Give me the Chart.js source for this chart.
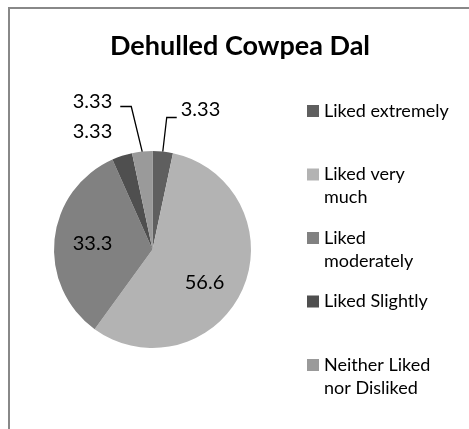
<!DOCTYPE html>
<html lang="en">
<head>
    <meta charset="UTF-8">
    <title>Dehulled Cowpea Dal</title>
    <script src="https://cdn.jsdelivr.net/npm/chart.js"></script>
    <style>
        body {
            margin: 0;
            background: #ffffff;
        }
        .frame {
            position: absolute;
            left: 0;
            top: 0;
            width: 469px;
            height: 429px;
        }
        .frame::before {
            content: '';
            position: absolute;
            left: 8px;
            top: 7px;
            right: 0;
            bottom: 0;
            border-top: 2px solid #888888;
            border-left: 2px solid #888888;
            pointer-events: none;
        }
    </style>
</head>
<body>
    <div class="frame">
        <canvas id="dalChart" width="469" height="429"></canvas>
    </div>
    <script>
        const chartTitle = 'Dehulled Cowpea Dal';
        const categories = ['Liked extremely', 'Liked very much', 'Liked moderately', 'Liked Slightly', 'Neither Liked nor Disliked'];
        const legendLines = [['Liked extremely'], ['Liked very', 'much'], ['Liked', 'moderately'], ['Liked Slightly'], ['Neither Liked', 'nor Disliked']];
        const percentages = [3.33, 56.6, 33.3, 3.33, 3.33];
        const sliceColors = ['#5f5f5f', '#b3b3b3', '#818181', '#4f4f4f', '#9a9a9a'];

        // where each value label sits, relative to the pie centre, and which side its leader line goes
        const labelOffsets = [[48, -140], [52, 33], [-60, -6], [-60, -118], [-60, -148]];
        const leaderSide = ['right', null, null, null, 'left'];

        const FONT = 'Lato, "Open Sans", sans-serif';

        const extrasPlugin = {
            id: 'extras',
            afterDraw(chart) {
                const ctx = chart.ctx;
                const arcs = chart.getDatasetMeta(0).data;
                const cx = arcs[0].x, cy = arcs[0].y;

                ctx.save();
                // title
                ctx.fillStyle = '#000';
                ctx.font = 'bold 27px ' + FONT;
                ctx.textAlign = 'center';
                ctx.textBaseline = 'alphabetic';
                ctx.fillText(chartTitle, 240, 55);

                // value labels
                ctx.font = '20px ' + FONT;
                ctx.textBaseline = 'middle';
                ctx.strokeStyle = '#000';
                ctx.lineWidth = 1.3;
                percentages.forEach((v, i) => {
                    const text = String(v);
                    const lx = cx + labelOffsets[i][0];
                    const ly = cy + labelOffsets[i][1];
                    ctx.textAlign = 'center';
                    ctx.fillText(text, lx, ly);

                    if (leaderSide[i]) {
                        const a = arcs[i];
                        const mid = (a.startAngle + a.endAngle) / 2;
                        const px = cx + Math.cos(mid) * a.outerRadius;
                        const py = cy + Math.sin(mid) * a.outerRadius;
                        const w = ctx.measureText(text).width;
                        ctx.beginPath();
                        if (leaderSide[i] === 'right') {
                            const sx = lx - w / 2 - 4;
                            ctx.moveTo(sx, ly + 8);
                            ctx.lineTo(sx - 10, ly + 8);
                        } else {
                            const sx = lx + w / 2 + 8;
                            ctx.moveTo(sx, ly + 5);
                            ctx.lineTo(sx + 11, ly + 5);
                        }
                        ctx.lineTo(px, py);
                        ctx.stroke();
                    }
                });

                // legend
                ctx.font = '18px ' + FONT;
                ctx.textAlign = 'left';
                legendLines.forEach((lines, i) => {
                    const y = 111 + i * 63.5;
                    ctx.fillStyle = sliceColors[i];
                    ctx.fillRect(307, y - 6, 12, 12);
                    ctx.fillStyle = '#000';
                    lines.forEach((t, j) => ctx.fillText(t, 324, y + j * 23));
                });
                ctx.restore();
            }
        };

        new Chart(document.getElementById('dalChart'), {
            type: 'pie',
            data: {
                labels: categories,
                datasets: [{
                    data: percentages,
                    backgroundColor: sliceColors,
                    borderWidth: 0
                }]
            },
            options: {
                responsive: false,
                animation: false,
                layout: {
                    padding: { left: 54, right: 218, top: 151, bottom: 81 }
                },
                plugins: {
                    legend: { display: false },
                    tooltip: { enabled: false }
                }
            },
            plugins: [extrasPlugin]
        });
    </script>
</body>
</html>
